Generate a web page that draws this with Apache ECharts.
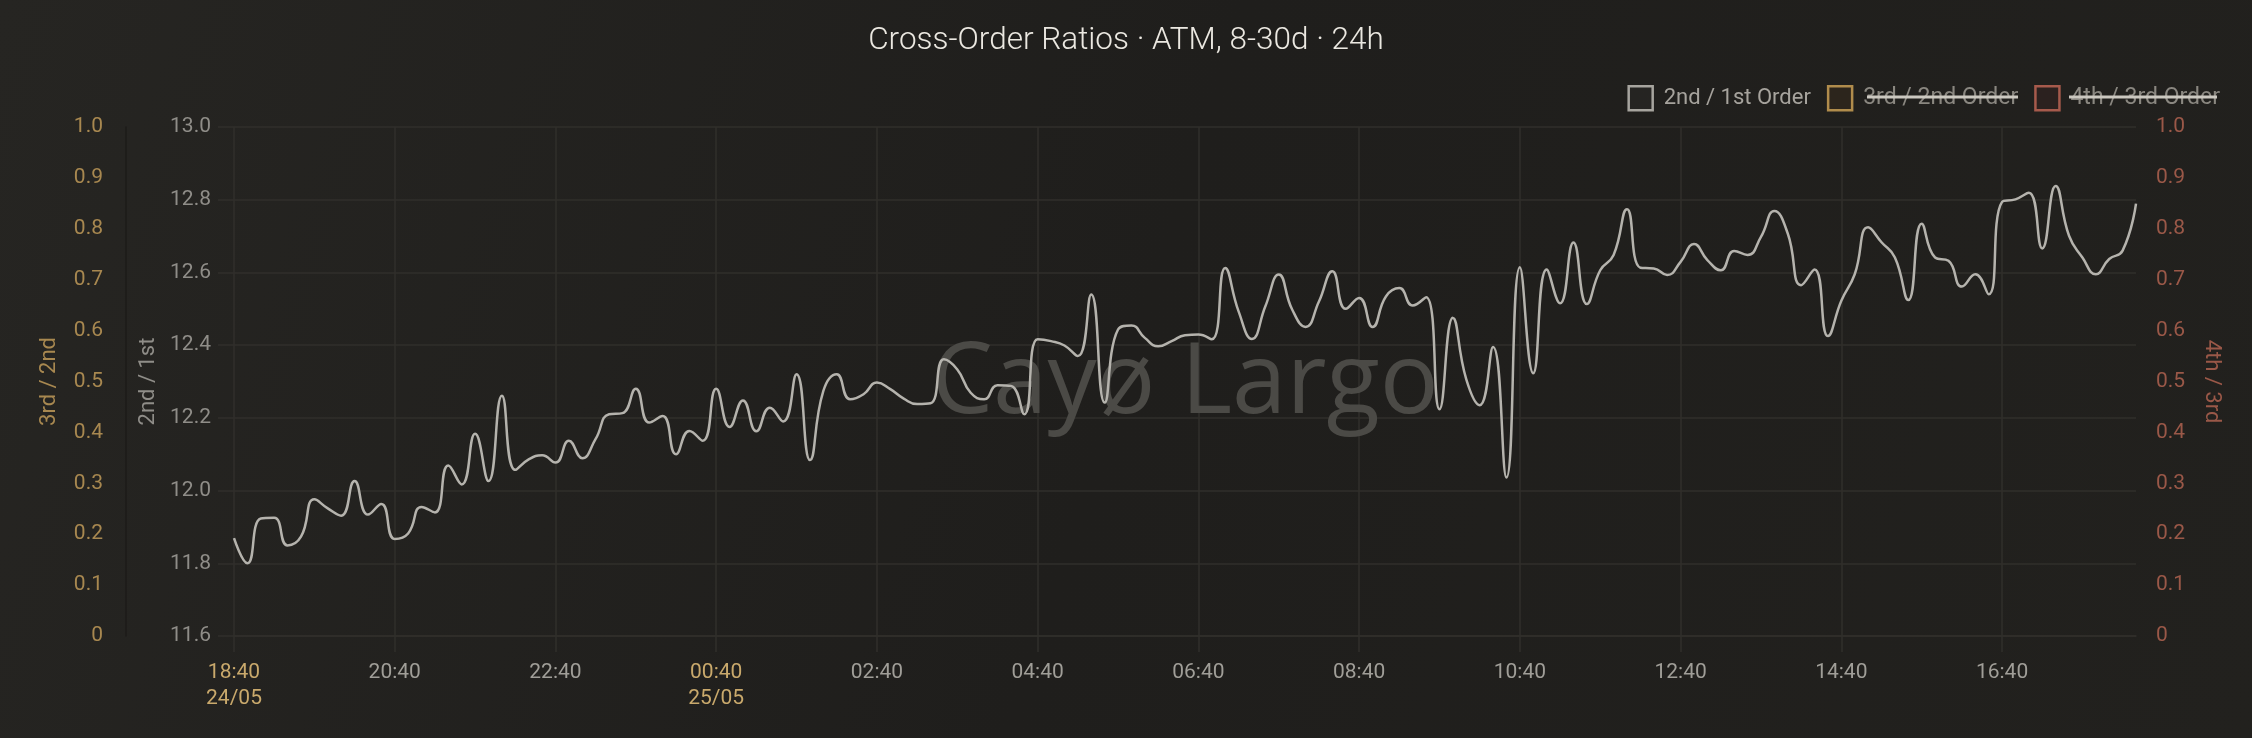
<!DOCTYPE html>
<html>
<head>
<meta charset="utf-8">
<script src="https://cdn.jsdelivr.net/npm/echarts@6/dist/echarts.min.js"></script>
<style>
html,body{margin:0;padding:0;background:#201f1c;}
#chart{width:2252px;height:738px;}
</style>
</head>
<body>
<div id="chart"></div>
<script>
// ---- data ----
const startDay = 24, startMonth = 5, startMinutes = 18 * 60 + 40, stepMinutes = 10;
const ratio21 = [
  11.869, 11.800, 11.923, 11.925, 11.849, 11.873, 11.976, 11.951, 11.931, 12.026,
  11.934, 11.963, 11.867, 11.882, 11.955, 11.940, 12.069, 12.017, 12.156, 12.026,
  12.261, 12.057, 12.086, 12.097, 12.077, 12.137, 12.089, 12.142, 12.210, 12.213,
  12.280, 12.187, 12.205, 12.100, 12.164, 12.137, 12.280, 12.175, 12.248, 12.163,
  12.228, 12.190, 12.320, 12.084, 12.274, 12.320, 12.251, 12.265, 12.297, 12.279,
  12.253, 12.238, 12.240, 12.361, 12.333, 12.269, 12.251, 12.290, 12.288, 12.210,
  12.416, 12.411, 12.399, 12.370, 12.539, 12.242, 12.443, 12.454, 12.420, 12.397,
  12.411, 12.427, 12.429, 12.416, 12.612, 12.493, 12.417, 12.507, 12.594, 12.498,
  12.450, 12.520, 12.603, 12.500, 12.530, 12.450, 12.534, 12.557, 12.509, 12.532,
  12.224, 12.475, 12.306, 12.235, 12.395, 12.036, 12.614, 12.323, 12.608, 12.515,
  12.682, 12.513, 12.606, 12.648, 12.774, 12.613, 12.611, 12.593, 12.629, 12.678,
  12.634, 12.606, 12.659, 12.648, 12.698, 12.769, 12.707, 12.565, 12.608, 12.425,
  12.522, 12.595, 12.724, 12.683, 12.641, 12.524, 12.734, 12.641, 12.632, 12.561,
  12.595, 12.540, 12.794, 12.801, 12.819, 12.666, 12.838, 12.701, 12.641, 12.595,
  12.637, 12.660, 12.789
];
const ratio32 = [];
const ratio43 = [];
const seriesNames = ['2nd / 1st Order', '3rd / 2nd Order', '4th / 3rd Order'];
const axisNames = ['2nd / 1st', '3rd / 2nd', '4th / 3rd'];

// time categories (10-minute steps)
const pad = n => String(n).padStart(2, '0');
const times = [], dates = [];
for (let i = 0; i < ratio21.length; i++) {
  const t = startMinutes + i * stepMinutes;
  const d = startDay + Math.floor(t / 1440);
  const m = t % 1440;
  times.push(pad(Math.floor(m / 60)) + ':' + pad(m % 60));
  dates.push(pad(d) + '/' + pad(startMonth));
}
const categories = times.map((t, i) => dates[i] + ' ' + t);

// ---- style ----
const FONT = 'Roboto, "Liberation Sans", sans-serif';
const gridColor = '#302f2b';
const gold = '#a88850';
const goldBright = '#c9a96c';
const rust = '#9a5848';
const greyLbl = '#8f8d88';
const xLbl = '#a09e98';
const lineColor = '#b5b3ad';

const chart = echarts.init(document.getElementById('chart'), null, {renderer: 'canvas'});
chart.setOption({
  backgroundColor: {
    type: 'linear', x: 0, y: 0, x2: 1, y2: 1,
    colorStops: [{offset: 0, color: '#262522'}, {offset: 0.5, color: '#1f1e1c'}, {offset: 1, color: '#22211e'}]
  },
  animation: false,
  textStyle: {fontFamily: FONT},
  title: {
    text: 'Cross-Order Ratios · ATM, 8-30d · 24h',
    left: 'center', top: 20,
    textStyle: {color: '#ebe8e1', fontSize: 31.5, fontWeight: 300, fontFamily: FONT}
  },
  legend: {
    right: 32, top: 85, padding: 0,
    itemWidth: 24, itemHeight: 24, itemGap: 16,
    icon: 'rect',
    textStyle: {fontSize: 23, fontFamily: FONT, padding: [0, 0, 0, 6]},
    data: [
      {name: seriesNames[0], itemStyle: {color: 'rgba(180,178,172,0.04)', borderColor: '#a6a49e', borderWidth: 2.5}, textStyle: {color: '#a6a39d', fontSize: 22}},
      {name: seriesNames[1], itemStyle: {color: '#2c251c', borderColor: '#b08c4c', borderWidth: 2.5}, textStyle: {color: '#8a8780'}},
      {name: seriesNames[2], itemStyle: {color: '#2b211f', borderColor: '#a65a4c', borderWidth: 2.5}, textStyle: {color: '#8a8780'}}
    ]
  },
  grid: {left: 234, right: 116, top: 127, bottom: 102},
  xAxis: {
    type: 'category',
    data: categories,
    boundaryGap: false,
    axisLine: {show: true, lineStyle: {color: gridColor, width: 1.5}},
    axisTick: {show: true, interval: 11, length: 16, lineStyle: {color: gridColor, width: 1.5}},
    splitLine: {show: true, interval: 11, lineStyle: {color: gridColor, width: 1.5}},
    axisLabel: {
      interval: 11, margin: 24, fontSize: 21, fontFamily: FONT, color: xLbl,
      formatter: function (v, idx) {
        const showDate = idx === 0 || dates[idx] !== dates[idx - 12];
        return showDate ? '{g|' + times[idx] + '}\n{g|' + dates[idx] + '}' : '{n|' + times[idx] + '}';
      },
      rich: {
        g: {color: goldBright, fontSize: 21, lineHeight: 26, fontFamily: FONT},
        n: {color: xLbl, fontSize: 21, lineHeight: 26, fontFamily: FONT}
      }
    }
  },
  yAxis: [
    {
      type: 'value', position: 'left', min: 11.6, max: 13.0, interval: 0.2,
      name: axisNames[0], nameLocation: 'middle', nameRotate: 90, nameGap: 74,
      nameTextStyle: {color: greyLbl, fontSize: 22, fontFamily: FONT},
      axisLine: {show: false},
      axisTick: {show: true, length: 16, lineStyle: {color: gridColor, width: 1.5}},
      splitLine: {show: true, lineStyle: {color: gridColor, width: 1.5}},
      axisLabel: {color: greyLbl, fontSize: 21, margin: 23, fontFamily: FONT, formatter: v => v.toFixed(1)}
    },
    {
      type: 'value', position: 'left', offset: 108, min: 0, max: 1, interval: 0.1,
      name: axisNames[1], nameLocation: 'middle', nameRotate: 90, nameGap: 66,
      nameTextStyle: {color: gold, fontSize: 22, fontFamily: FONT},
      axisLine: {show: true, lineStyle: {color: '#1c1b19', width: 1.5}},
      axisTick: {show: false},
      splitLine: {show: false},
      axisLabel: {color: gold, fontSize: 21, margin: 23, fontFamily: FONT, formatter: v => (Math.abs(v) < 1e-9 ? '0' : v.toFixed(1))}
    },
    {
      type: 'value', position: 'right', min: 0, max: 1, interval: 0.1,
      name: axisNames[2], nameLocation: 'middle', nameRotate: -90, nameGap: 64,
      nameTextStyle: {color: rust, fontSize: 22, fontFamily: FONT},
      axisLine: {show: false},
      axisTick: {show: false},
      splitLine: {show: false},
      axisLabel: {color: rust, fontSize: 21, margin: 20, fontFamily: FONT, formatter: v => (Math.abs(v) < 1e-9 ? '0' : v.toFixed(1))}
    }
  ],
  graphic: [
    {
      type: 'text', x: 1185, y: 385, z: 1, silent: true,
      style: {text: 'Cayø Largo', font: '98px "Open Sans", "Noto Sans", sans-serif', fill: '#4b4a46', textAlign: 'center', textVerticalAlign: 'middle'}
    },
    {type: 'rect', shape: {x: 1867, y: 95.5, width: 151, height: 3}, style: {fill: '#cbc8c0'}, z: 100, silent: true},
    {type: 'rect', shape: {x: 2069, y: 95.5, width: 148, height: 3}, style: {fill: '#cbc8c0'}, z: 100, silent: true}
  ],
  series: [
    {
      name: seriesNames[0], type: 'line', yAxisIndex: 0, data: ratio21,
      smooth: true, showSymbol: false, symbol: 'none', z: 5,
      lineStyle: {color: lineColor, width: 2.5}, itemStyle: {color: lineColor}
    },
    {name: seriesNames[1], type: 'line', yAxisIndex: 1, data: ratio32, showSymbol: false, lineStyle: {color: gold}, itemStyle: {color: gold}},
    {name: seriesNames[2], type: 'line', yAxisIndex: 2, data: ratio43, showSymbol: false, lineStyle: {color: rust}, itemStyle: {color: rust}}
  ]
});
</script>
</body>
</html>
